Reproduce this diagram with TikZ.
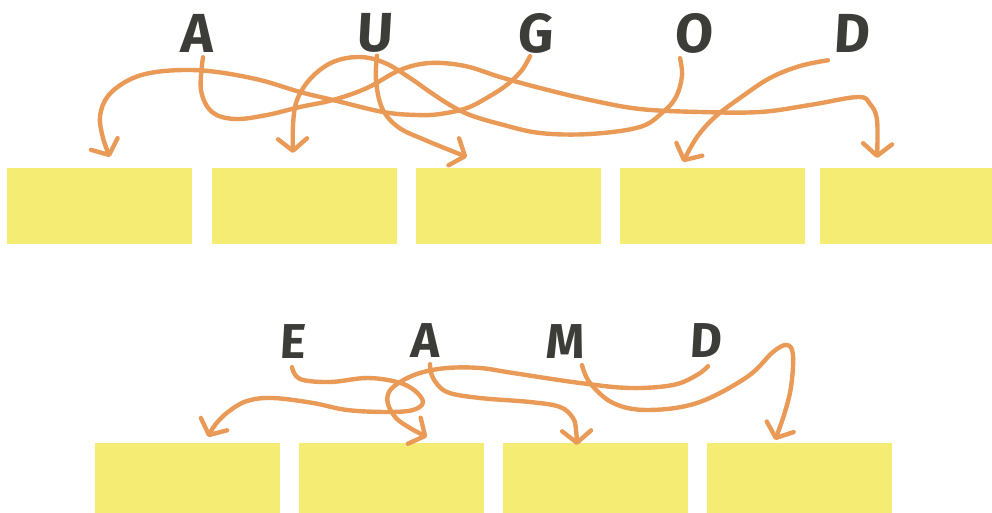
\documentclass[tikz,border=0pt]{standalone}
\usepackage{fontspec}
\newfontfamily\hand{Fira Sans}[FakeSlant=0.06]
\usetikzlibrary{arrows.meta}
\definecolor{boxyellow}{HTML}{F5EC73}
\definecolor{arroworange}{HTML}{E99A57}
\definecolor{inkgray}{HTML}{3C3C38}
\begin{document}
\begin{tikzpicture}[x=1pt,y=-1pt,
  slot/.style={fill=boxyellow, draw=none, minimum width=185pt, minimum height=76pt, inner sep=0pt, outer sep=0pt, anchor=north west},
  lowslot/.style={slot, minimum height=70pt},
  bigletter/.style={font=\hand\bfseries\fontsize{55}{55}\selectfont, text=inkgray, inner sep=0pt},
  smallletter/.style={font=\hand\bfseries\fontsize{49}{49}\selectfont, text=inkgray, inner sep=0pt},
  link/.style={draw=arroworange, line width=4.4pt, line cap=round, line join=round,
    -{Straight Barb[length=12pt,width=29pt,round]}},
  curve/.style={smooth, tension=0.6}
]
\useasboundingbox (0,0) rectangle (992,513);

% top row boxes
\node[slot] (b1) at (7,168) {};
\node[slot] (b2) at (212,168) {};
\node[slot] (b3) at (416,168) {};
\node[slot] (b4) at (620,168) {};
\node[slot, minimum width=172pt] (b5) at (820,168) {};

% bottom row boxes
\node[lowslot] (c1) at (95,443) {};
\node[lowslot] (c2) at (299,443) {};
\node[lowslot] (c3) at (503,443) {};
\node[lowslot] (c4) at (707,443) {};

% top letters
\node[bigletter] (tA) at (197,33) {A};
\node[bigletter] (tU) at (374,33) {U};
\node[bigletter] (tG) at (535,33) {G};
\node[bigletter] (tO) at (693,33) {O};
\node[bigletter] (tD) at (851,33) {D};

% bottom letters
\node[smallletter] (sE) at (292,342) {E};
\node[smallletter] (sA) at (425,341) {A};
\node[smallletter] (sM) at (565,342) {M};
\node[smallletter] (sD) at (705,341) {D};

% arrow tips
\coordinate (p1) at (110,157);
\coordinate (p2) at (293,153);
\coordinate (p3) at (467,157);
\coordinate (p4) at (683,162);
\coordinate (p5) at (877,158);
\coordinate (q1) at (208,437);
\coordinate (q2) at (427,437);
\coordinate (q3) at (577,445);
\coordinate (q4) at (775,440);

% top connectors
\draw[link] plot[curve] coordinates {([shift={(6pt,-5pt)}]tA.south) (201,90) (212,112) (235,119) (267,115) (300,107) (333,100) (367,88) (400,70) (430,63) (465,66) (500,77) (540,88) (590,100) (640,109) (700,112) (760,112) (810,105) (858,97) (870,104) (877,120) (p5)};
\draw[link] plot[curve] coordinates {([shift={(3pt,-3pt)}]tU.south) (376,80) (382,108) (398,127) (425,140) (p3)};
\draw[link] plot[curve] coordinates {([shift={(-5pt,-3pt)}]tG.south) (522,70) (508,84) (490,96) (467,108) (440,114) (417,115) (383,112) (333,100) (300,92) (260,80) (217,72) (183,70) (150,73) (127,81) (108,96) (100,116) (103,138) (p1)};
\draw[link] plot[curve] coordinates {([shift={(-13pt,-5pt)}]tO.south) (682,76) (676,97) (663,112) (640,127) (590,134) (540,133) (500,124) (470,115) (450,105) (430,92) (410,78) (385,63) (360,57) (333,62) (311,78) (297,100) (293,125) (p2)};
\draw[link] plot[curve] coordinates {([shift={(-23pt,-8pt)}]tD.south) (800,66) (770,78) (740,98) (715,117) (697,137) (p4)};

% bottom connectors
\draw[link] plot[curve] coordinates {([shift={(0pt,-8pt)}]sE.south) (300,379) (330,382) (367,378) (397,382) (414,390) (423,402) (413,410) (387,412) (347,410) (313,403) (273,398) (247,401) (228,412) (215,425) (q1)};
\draw[link] plot[curve] coordinates {([shift={(3pt,-8pt)}]sD.south) (697,375) (673,385) (630,388) (580,383) (513,373) (480,368) (447,368) (420,373) (400,382) (389,392) (388,404) (396,418) (410,428) (q2)};
\draw[link] plot[curve] coordinates {([shift={(5pt,-6pt)}]sA.south) (433,378) (447,392) (480,398) (530,402) (560,407) (573,418) (576,430) (q3)};
\draw[link] plot[curve] coordinates {([shift={(17pt,-6pt)}]sM.south) (590,383) (613,403) (647,410) (697,403) (747,377) (773,352) (787,345) (793,355) (791,387) (784,415) (q4)};
\end{tikzpicture}
\end{document}
